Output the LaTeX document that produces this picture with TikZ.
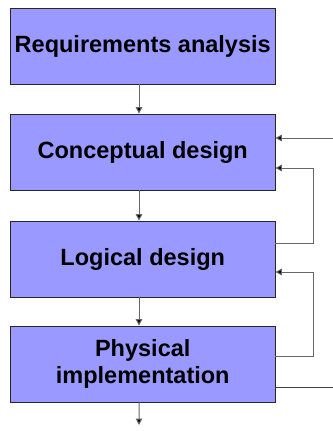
\documentclass[tikz,border=0pt]{standalone}
\usepackage{fontspec}
\setmainfont{Liberation Sans}
\usetikzlibrary{arrows.meta}
\definecolor{boxfill}{HTML}{9999FF}
\begin{document}
\begin{tikzpicture}[x=1bp,y=-1bp,
  stage/.style={draw=black!85, line width=0.8bp, fill=boxfill,
    minimum width=264.5bp, minimum height=76bp, inner sep=0pt,
    align=center, font=\fontsize{23.5bp}{26.5bp}\selectfont\bfseries},
  flow/.style={draw=black!60, line width=1bp,
    -{Triangle[length=6.5bp,width=6.5bp,fill=black]}},
  link/.style={draw=black!75, line width=1bp}]
  \useasboundingbox (0,0) rectangle (333,431);

  % the four stages
  \node[stage] (req)  at (142.75,46)  {Requirements analysis};
  \node[stage] (con)  at (142.75,152) {Conceptual design};
  \node[stage] (log)  at (142.75,259) {Logical design};
  \node[stage] (phy)  at (142.75,364) {Physical\\implementation};

  % free ends on the right and below
  \coordinate (topin)  at (333,138);
  \coordinate (botout) at (333,387);
  \coordinate (down)   at (139,425);

  % forward flow
  \draw[flow] ([xshift=-3.75bp]req.south) -- ([xshift=-3.75bp]con.north);
  \draw[flow] ([xshift=-3.75bp]con.south) -- ([xshift=-3.75bp]log.north);
  \draw[flow] ([xshift=-3.75bp]log.south) -- ([xshift=-3.75bp]phy.north);
  \draw[flow] ([xshift=-3.75bp]phy.south) -- (down);

  % feedback loops
  \draw[flow] (topin) -- (topin -| con.east);
  \draw[flow] (log.east |- 0,243) -- (313,243) -- (313,168) -- (con.east |- 0,168);
  \draw[flow] (phy.east |- 0,356) -- (313,356) -- (313,272) -- (log.east |- 0,272);
  \draw[link] (botout -| phy.east) -- (botout);
\end{tikzpicture}
\end{document}
